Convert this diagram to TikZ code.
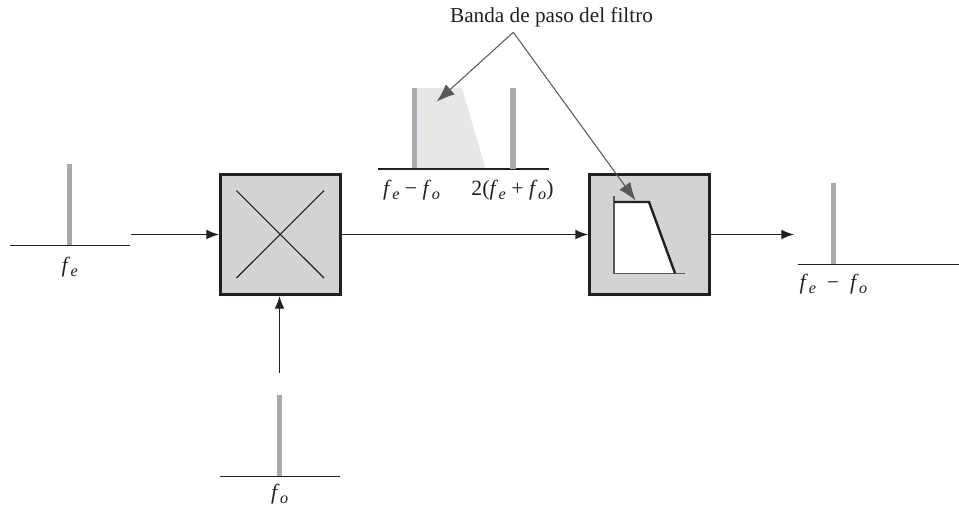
\documentclass[tikz,border=0pt]{standalone}
\usepackage{fontspec}
\setmainfont{Liberation Serif}
\usetikzlibrary{arrows.meta}
\definecolor{ink}{HTML}{231F20}
\definecolor{bar}{HTML}{A7A9AC}
\definecolor{boxfill}{HTML}{D1D3D4}
\definecolor{band}{HTML}{E6E7E8}
\definecolor{pointer}{HTML}{58595B}
\tikzset{
  bloque/.style={draw=ink, fill=boxfill, line width=2.1pt, minimum size=3cm, inner sep=0pt},
  senal/.style={draw=ink, line width=1pt, -{Latex[length=9pt,width=7pt]}},
  puntero/.style={draw=pointer, line width=0.75pt, -{Latex[length=13pt,width=9.5pt]}},
  base/.style={draw=ink, line width=0.8pt},
  raya/.style={fill=bar},
  etiqueta/.style={font=\fontsize{15.5}{17}\selectfont, text=ink, inner sep=0pt},
  titulo/.style={font=\fontsize{15.1}{17}\selectfont, text=ink, inner sep=0pt},
}
\newcommand{\fsub}[1]{\textit{f}\kern0.4pt\raisebox{-0.4ex}{\fontsize{11.5}{12}\selectfont\textit{#1}}}
\newcommand{\espectro}[5]{%
  \fill[raya] (#3-2.7,#4) rectangle (#3+2.7,#5);
  \draw[base] (#1,#5)--(#2,#5);
}

\begin{document}
\begin{tikzpicture}[x=0.025cm, y=-0.025cm]
\path[use as bounding box] (0,0) rectangle (959,506);

% blocks
\node[bloque] (mixer) at (280.5,234.5) {};
\node[bloque] (filter) at (649.5,234.5) {};
\draw[ink,line width=0.8pt] (236.5,190.7)--(324,278);
\draw[ink,line width=0.8pt] (236.5,278)--(324,190.7);

% filter shape
\fill[white] (614,202)--(649,202)--(675,273.3)--(614,273.3)--cycle;
\draw[pointer,line width=0.9pt] (685,273.3)--(614,273.3)--(614,196);
\draw[ink,line width=1.7pt] (614,202)--(649,202)--(675,273.3);

% spectra
\fill[band] (417,88)--(462,88)--(485.7,169)--(417,169)--cycle;
\espectro{10}{129.5}{69.7}{164}{245.7}
\espectro{219.5}{339.5}{279.7}{395}{476.7}
\espectro{378}{549}{414.3}{88}{169}
\fill[raya] (510.3,88) rectangle (515.7,169);
\espectro{797.7}{959}{833.7}{183}{264.7}

% labels
\node[etiqueta] (fe) at (69.7,267) {\fsub{e}};
\node[etiqueta] (fo) at (279.7,494) {\fsub{o}};
\node[etiqueta] (resta) at (411.5,190) {\fsub{e} − \fsub{o}};
\node[etiqueta] (suma) at (512.5,190) {2(\fsub{e} + \fsub{o})};
\node[etiqueta] (salida) at (833.5,284) {\fsub{e}\ \ −\ \ \fsub{o}};
\node[titulo] (banda) at (551.5,17.5) {Banda de paso del filtro};

% connectors
\coordinate (apex) at (513.3,32.3);
\coordinate (inpico) at (436.7,101.7);
\coordinate (infiltro) at (635.7,200.7);
\coordinate (entrada) at (131,234.5);
\coordinate (oscilador) at (279.5,372.7);
\coordinate (fin) at (794,234.5);
\draw[senal] (entrada)--(mixer.west);
\draw[senal] (oscilador)--(oscilador|-mixer.south);
\draw[senal] (mixer.east)--(filter.west);
\draw[senal] (filter.east)--(fin);
\draw[puntero] (apex)--(inpico);
\draw[puntero] (apex)--(infiltro);
\end{tikzpicture}
\end{document}
